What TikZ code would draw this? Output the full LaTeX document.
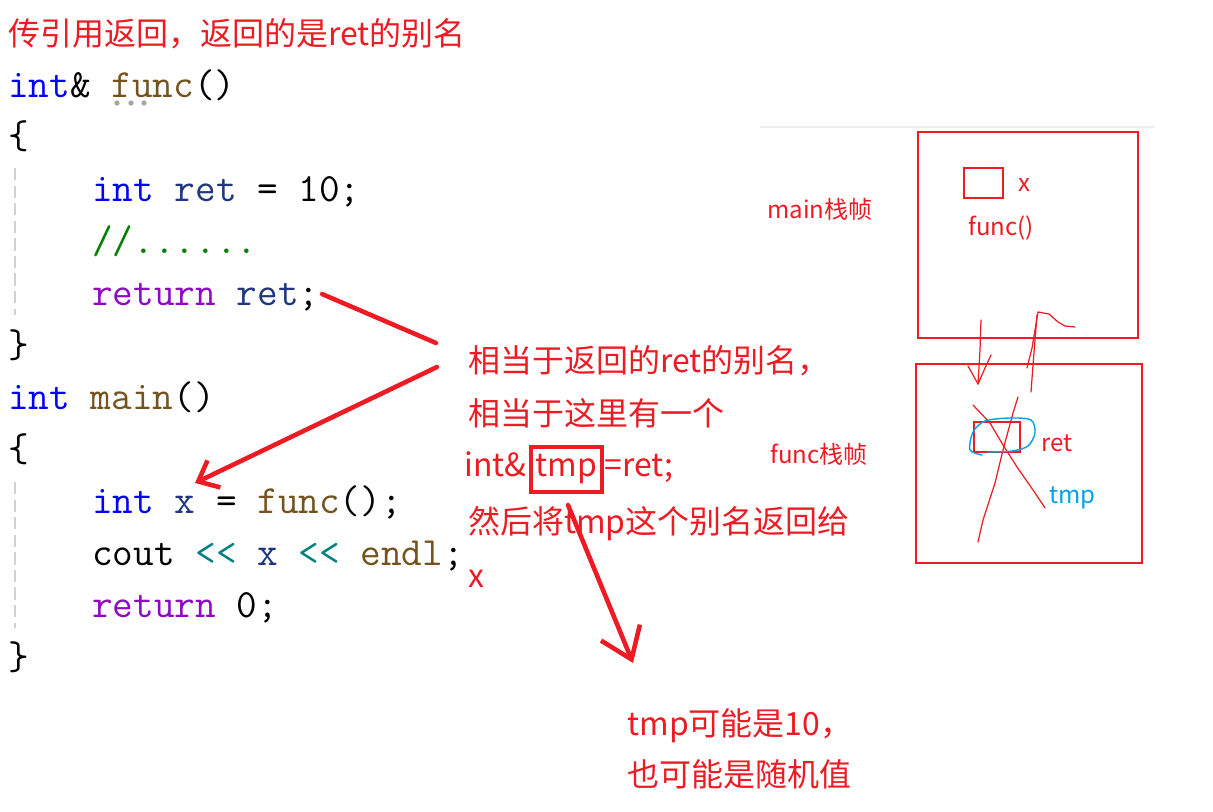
\documentclass[tikz,border=0pt]{standalone}
\usepackage{fontspec}
\newfontfamily\cjk{Noto Sans CJK SC}
\usetikzlibrary{arrows.meta,positioning,calc}
\definecolor{inkred}{HTML}{ED1C24}
\definecolor{penblue}{HTML}{00A2E8}
\definecolor{kwblue}{HTML}{0000FF}
\definecolor{fnbrown}{HTML}{74531F}
\definecolor{varblue}{HTML}{1F377F}
\definecolor{ctlpurple}{HTML}{8F08C4}
\definecolor{cmtgreen}{HTML}{008000}
\definecolor{optea}{HTML}{008080}
\newcommand{\ckw}{\color{kwblue}}
\newcommand{\cfn}{\color{fnbrown}}
\newcommand{\cvar}{\color{varblue}}
\newcommand{\cctl}{\color{ctlpurple}}
\newcommand{\ccmt}{\color{cmtgreen}}
\newcommand{\cop}{\color{optea}}
\tikzset{
  code/.style={anchor=base west, inner sep=0pt, font=\fontsize{22.8}{26}\selectfont\ttfamily},
  note/.style={anchor=base west, inner sep=0pt, text=inkred, font=\cjk\fontsize{18.2}{22}\selectfont},
  tag/.style={anchor=base west, inner sep=0pt, text=inkred, font=\cjk\fontsize{13.7}{16}\selectfont},
  redline/.style={draw=inkred, line width=2.6pt, line cap=round, line join=round},
  redarr/.style={redline, -{Straight Barb[length=3.5mm, width=6mm]}},
  bigarr/.style={redline, -{Straight Barb[length=5.8mm, width=8.4mm]}},
  frame/.style={draw=inkred, line width=1.2pt},
  scribble/.style={draw=inkred, line width=0.7pt, line cap=round, line join=round},
  guide/.style={draw=black!18, line width=1.7pt, dash pattern=on 7pt off 3pt},
}

\begin{document}
\begin{tikzpicture}[x=0.02cm, y=-0.02cm]
  \fill[white] (0,0) rectangle (1213,811);
  \useasboundingbox (0,0) rectangle (1213,811);
  % code listing, one row every 52px
  \newcommand{\codeln}[4]{% name, row, indent, text
    \node[code] (#1) at (8+#3*21, 97+#2*52) {#4};}
  \node[note] (title) at (8,46) {传引用返回，返回的是ret的别名};
  \codeln{fhead}{0}{0}{{\ckw int}\& {\cfn func}()}
  \codeln{fopen}{1}{0}{\{}
  \codeln{fdecl}{2}{4}{{\ckw int} {\cvar ret} = 10;}
  \codeln{fcmt}{3}{4}{{\ccmt //......}}
  \codeln{fret}{4}{4}{{\cctl return} {\cvar ret};}
  \codeln{fclose}{5}{0}{\}}
  \codeln{mhead}{6}{0}{{\ckw int} {\cfn main}()}
  \codeln{mopen}{7}{0}{\{}
  \codeln{mcall}{8}{4}{{\ckw int} {\cvar x} = {\cfn func}();}
  \codeln{mout}{9}{4}{cout {\cop <{}<} {\cvar x} {\cop <{}<} {\cfn endl};}
  \codeln{mret}{10}{4}{{\cctl return} 0;}
  \codeln{mclose}{11}{0}{\}}
  \draw[guide] (15,168) -- (15,315);
  \draw[guide] (15,482) -- (15,628);
  \foreach \d in {117,131,144} \fill[black!35] (\d,103) circle (1.5pt);
  % explanation
  \node[note] (say1) at (468,372) {相当于返回的ret的别名，};
  \node[note] (say2) at (468,425) {相当于这里有一个};
  \node[draw=inkred, line width=2.3pt, inner sep=0pt, minimum width=1.42cm, minimum height=0.9cm,
        text=inkred, font=\cjk\fontsize{18.2}{22}\selectfont] (tmpbox) at (566.5,469.5) {tmp};
  \node[note, anchor=base east] (say3) at ($(tmpbox.base west)+(-2,0)$) {int\&};
  \node[note] (say3b) at (tmpbox.base east) {=ret;};
  \node[note] (say4) at (468,533) {然后将tmp这个别名返回给};
  \node[note] (say5) at (468,587) {x};
  \node[note] (guess1) at (627,735) {tmp可能是10，};
  \node[note] (guess2) at (627,786) {也可能是随机值};
  \coordinate (retend) at (322,294);
  \coordinate (say1in) at (436,343);
  \coordinate (say1out) at (437,367);
  \coordinate (xtip) at (195,483);
  \coordinate (tmpfoot) at (568,505);
  \coordinate (guesstip) at (633,663);
  \draw[redline] (retend) -- (say1in);
  \draw[redarr] (say1out) -- (xtip);
  \draw[bigarr] (tmpfoot) -- (guesstip);
  % stack frames
  \draw[black!6, line width=1pt] (760,127) -- (1155,127);
  \draw[frame] (918,132) rectangle (1138,338);
  \draw[frame] (916,364) rectangle (1142,563);
  \draw[frame] (964,168) rectangle (1003,198);
  \draw[frame] (974,422) rectangle (1020,452);
  \node[tag] (mainlbl) at (767,218) {main栈帧};
  \node[tag] (funclbl) at (770,463) {func栈帧};
  \node[tag] (xlbl) at (1018,191) {x};
  \node[tag] (calllbl) at (968,235) {func()};
  \node[tag] (retlbl) at (1041,451) {ret};
  \node[tag, text=penblue] (tmplbl) at (1049,503) {tmp};
  \draw[scribble] (981,320) -- (980,350) -- (978,384);
  \draw[scribble] (968,366) -- (978,384) -- (985,368) -- (991,355);
  \draw[scribble] (1031,392) -- (1033,365) -- (1035,340) -- (1037,315);
  \draw[scribble] (1027,368) -- (1032,348) -- (1037,318) -- (1038,312)
    -- (1049,314) -- (1058,322) -- (1065,326) -- (1075,327);
  \draw[scribble] (973,405) -- (990,423) -- (1003,445) -- (1017,467) -- (1033,490) -- (1045,508);
  \draw[scribble] (1018,397) -- (1013,413) -- (1003,450) -- (995,483) -- (983,520) -- (978,542);
  \draw[penblue, line width=0.8pt, line cap=round] plot[smooth] coordinates
    {(987,452) (1012,451) (1028,446) (1035,433) (1031,420) (1010,418) (985,421) (973,432) (970,450) (982,455)};
\end{tikzpicture}
\end{document}
